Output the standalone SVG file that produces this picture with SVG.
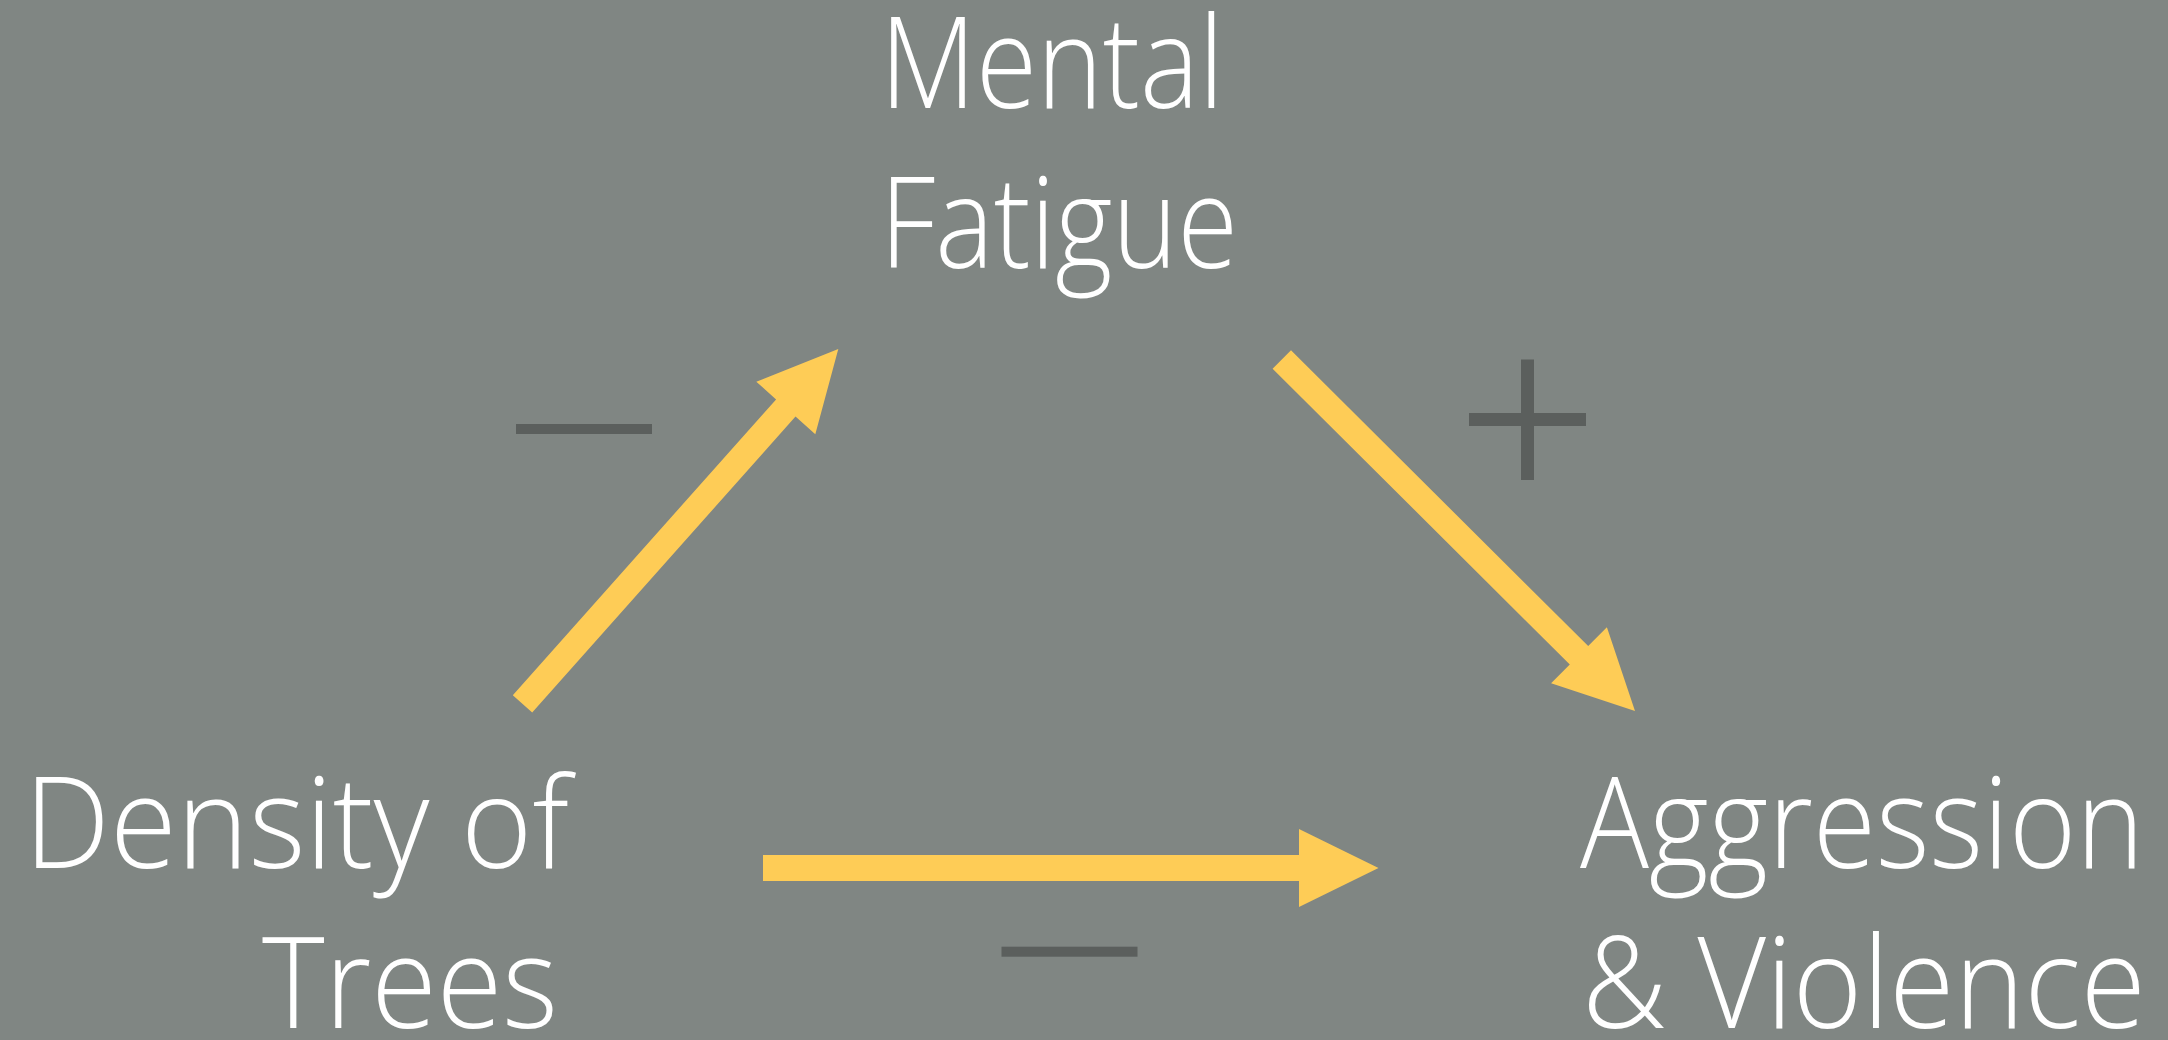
<svg xmlns="http://www.w3.org/2000/svg" width="2168" height="1040" viewBox="0 0 2168 1040">
  <style>
    .lbl { font-family: "Open Sans", "Lato", "DejaVu Sans", sans-serif; font-weight: 300; font-size: 128px; fill: #ffffff; }
    .arrow { fill: #fecc56; }
    .sign { fill: #5b5f5d; }
  </style>
  <rect x="0" y="0" width="2168" height="1040" fill="#808683"/>

  <g id="node-mental">
    <text class="lbl" x="880" y="108" textLength="344" lengthAdjust="spacingAndGlyphs">Mental</text>
    <text class="lbl" x="880" y="268" textLength="358" lengthAdjust="spacingAndGlyphs">Fatigue</text>
  </g>

  <g id="node-density">
    <text class="lbl" x="24" y="868" textLength="545" lengthAdjust="spacingAndGlyphs">Density of</text>
    <text class="lbl" x="262" y="1028" textLength="296" lengthAdjust="spacingAndGlyphs">Trees</text>
  </g>

  <g id="node-aggression">
    <text class="lbl" x="1580" y="868" textLength="564" lengthAdjust="spacingAndGlyphs">Aggression</text>
    <text class="lbl" x="1582" y="1028" textLength="564" lengthAdjust="spacingAndGlyphs">&amp; Violence</text>
  </g>

  <g id="connectors">
    <polygon id="edge-density-mental" class="arrow" points="512.8,695.2 776.1,399.4 756.3,381.7 838.3,349 815.3,434.3 795.5,416.6 532.2,712.4"/>
    <polygon id="edge-mental-aggression" class="arrow" points="1291,350.3 1588.2,646.1 1606.9,627.3 1635,711 1551.1,683.3 1569.8,664.5 1272.6,368.7"/>
    <polygon id="edge-density-aggression" class="arrow" points="763,855 1299,855 1299,829 1378.5,868 1299,907 1299,881 763,881"/>
  </g>

  <g id="signs">
    <rect class="sign" x="516" y="424" width="136" height="10"/>
    <rect class="sign" x="1469" y="413" width="117" height="13"/>
    <rect class="sign" x="1521" y="359.5" width="13" height="120.5"/>
    <rect class="sign" x="1001.5" y="946.7" width="136" height="10"/>
  </g>
</svg>
